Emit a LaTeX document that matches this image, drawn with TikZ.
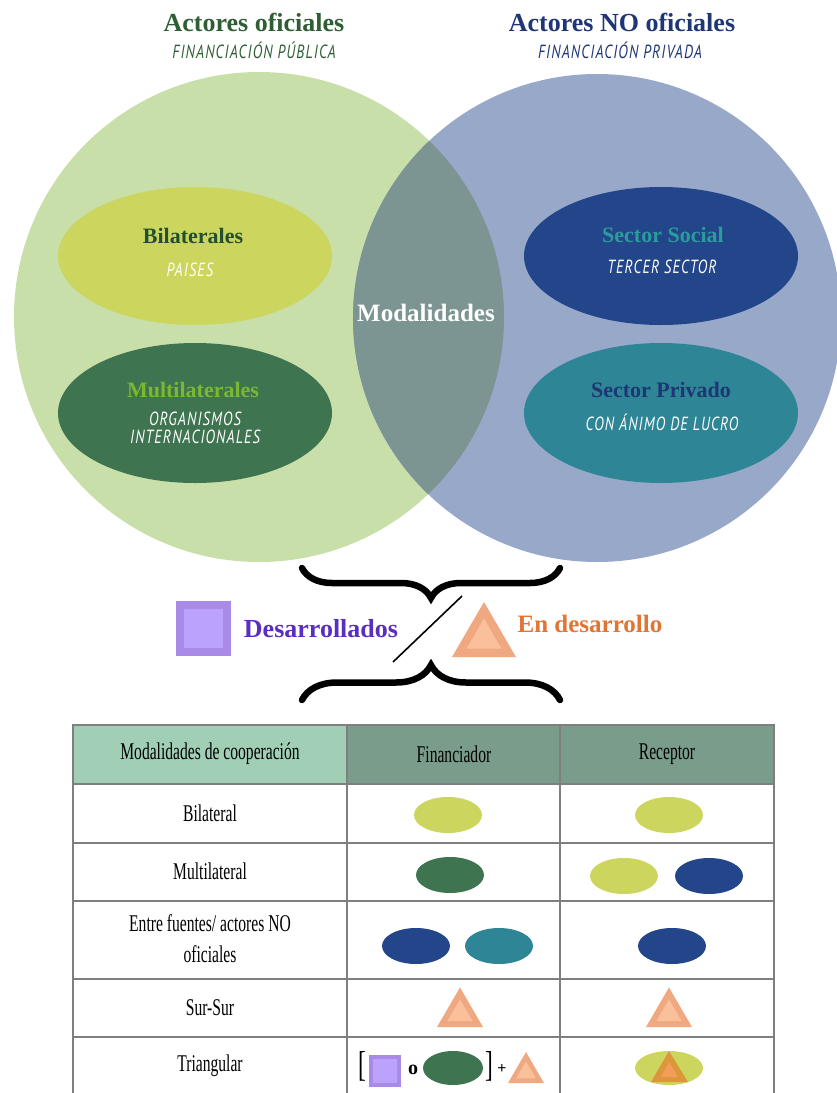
\documentclass[tikz,border=0pt]{standalone}
\usepackage{fontspec}
\setmainfont{Liberation Serif}
\newfontfamily\headfont{Liberation Serif}
\newfontfamily\tabfont[FakeStretch=0.65]{Liberation Serif}
\newfontfamily\tagfont[FakeStretch=0.76,LetterSpace=6]{PT Sans}
\usepackage{tikz}
\usetikzlibrary{decorations.pathreplacing,calc}

\definecolor{offgreen}{HTML}{C9DFA9}
\definecolor{offblue}{HTML}{97A8C9}
\definecolor{lens}{HTML}{7C9592}
\definecolor{limegreen}{HTML}{CCD65E}
\definecolor{forest}{HTML}{3F7450}
\definecolor{navy}{HTML}{23458A}
\definecolor{teal}{HTML}{2E8596}
\definecolor{titlegreen}{HTML}{2F5E35}
\definecolor{titleblue}{HTML}{1F3675}
\definecolor{darkleaf}{HTML}{24502E}
\definecolor{brightleaf}{HTML}{7AB833}
\definecolor{socialteal}{HTML}{2A9C9C}
\definecolor{sqout}{HTML}{A98AE6}
\definecolor{sqin}{HTML}{BBA2FB}
\definecolor{triout}{HTML}{F0A880}
\definecolor{triin}{HTML}{F9C09B}
\definecolor{devpurple}{HTML}{5A2FC0}
\definecolor{devorange}{HTML}{E07535}
\definecolor{headmint}{HTML}{A0CFB5}
\definecolor{headsage}{HTML}{7A9C8A}
\definecolor{gridgray}{HTML}{7F7F7F}

% small sketch helpers
\newcommand\devsquare[3]{% x, y (top left), side
  \fill[sqout] (#1,#2) rectangle ++(#3,#3);
  \fill[sqin] ($(#1,#2)+(0.14*#3,0.14*#3)$) rectangle ++(0.72*#3,0.72*#3);}
\newcommand\devtri[2]{% base centre, half width
  \begin{scope}[shift={#1},scale=#2]
    \fill[triout] (-1,0) -- (1,0) -- (0,-1.72) -- cycle;
    \fill[triin] (-0.55,-0.26) -- (0.55,-0.26) -- (0,-1.2) -- cycle;
  \end{scope}}
\newcommand\pill[3]{\fill[#3] (#1,#2) ellipse [x radius=34, y radius=18];}

\begin{document}
\begin{tikzpicture}[x=1pt,y=-1pt,
  title/.style={inner sep=0pt,font=\headfont\bfseries\fontsize{26}{30}\selectfont},
  tagline/.style={inner sep=0pt,font=\tagfont\itshape\fontsize{19}{19}\selectfont},
  blobname/.style={inner sep=0pt,font=\headfont\bfseries\fontsize{22}{26}\selectfont},
  cell/.style={inner sep=0pt,align=center,font=\tabfont\fontsize{24}{31}\selectfont},
  tabline/.style={gridgray,line width=2pt},
  bracket/.style={line width=6.5pt,line cap=round,decorate,
    decoration={brace,amplitude=#1}}]
\useasboundingbox (0,0) rectangle (837,1093);

% titles
\node[title,text=titlegreen] (offtitle) at (254,22) {Actores oficiales};
\node[tagline,text=titlegreen] (offsub) at (254,50) {FINANCIACIÓN PÚBLICA};
\node[title,text=titleblue] (notitle) at (622,22) {Actores NO oficiales};
\node[tagline,text=titleblue] (nosub) at (620,50) {FINANCIACIÓN PRIVADA};

% the two circles and their overlap
\begin{scope}
\clip (0,0) rectangle (837,1093);
\fill[offgreen] (259,317) circle (245);
\fill[offblue] (597,318) circle (244);
\begin{scope}
\clip (259,317) circle (245);
\fill[lens] (597,318) circle (244);
\end{scope}
\end{scope}

\fill[limegreen] (195,256) ellipse [x radius=137, y radius=69];
\fill[forest] (195,413) ellipse [x radius=137, y radius=70];
\fill[navy] (661,256) ellipse [x radius=137, y radius=69];
\fill[teal] (661,413) ellipse [x radius=137, y radius=70];

\node[blobname,text=darkleaf] (bilat) at (193,236) {Bilaterales};
\node[tagline,text=white] (paises) at (190,270) {PAISES};
\node[blobname,text=brightleaf] (multi) at (193,390) {Multilaterales};
\node[tagline,text=white,align=center,font=\tagfont\itshape\fontsize{19}{18}\selectfont]
  (orgs) at (195,428) {ORGANISMOS\\INTERNACIONALES};
\node[blobname,text=socialteal] (social) at (663,235) {Sector Social};
\node[tagline,text=white] (tercer) at (662,267) {TERCER SECTOR};
\node[blobname,text=titleblue] (privado) at (661,390) {Sector Privado};
\node[tagline,text=white] (lucro) at (662,422) {CON ÁNIMO DE LUCRO};
\node[blobname,text=white,font=\headfont\bfseries\fontsize{25}{28}\selectfont] (modal) at (426,313) {Modalidades};

% braces and the two groups
\coordinate (topl) at (302,568);
\coordinate (topr) at (560,568);
\coordinate (botl) at (302,700);
\coordinate (botr) at (560,700);
\draw[bracket=30] (topr) -- (topl);
\draw[bracket=35] (botl) -- (botr);
\coordinate (slasha) at (393,662);
\coordinate (slashb) at (462,596);
\draw[line width=1.6pt] (slasha) -- (slashb);

\devsquare{176}{601}{55}
\node[title,text=devpurple,font=\headfont\bfseries\fontsize{26}{30}\selectfont] (desarr) at (321,629) {Desarrollados};
\devtri{(484,657)}{32}
\node[title,text=devorange,font=\headfont\bfseries\fontsize{25}{30}\selectfont] (endes) at (590,624) {En desarrollo};

% table
\fill[headmint] (73,725) rectangle (347,784);
\fill[headsage] (347,725) rectangle (774,784);
\foreach \y in {784,843,901,979,1037}
  \draw[tabline] (73,\y) -- (774,\y);
\foreach \x in {347,560}
  \draw[tabline] (\x,725) -- (\x,1100);
\draw[tabline] (73,725) rectangle (774,1100);

\node[cell] (hmod) at (210,754) {Modalidades de cooperación};
\node[cell] (hfin) at (454,754) {Financiador};
\node[cell] (hrec) at (667,754) {Receptor};
\node[cell] (rbil) at (210,813) {Bilateral};
\node[cell] (rmul) at (210,871) {Multilateral};
\node[cell] (rent) at (210,939) {Entre fuentes/ actores NO\\oficiales};
\node[cell] (rsur) at (210,1008) {Sur-Sur};
\node[cell] (rtri) at (210,1066) {Triangular};

\pill{448}{815}{limegreen}
\pill{669}{815}{limegreen}
\pill{450}{875}{forest}
\pill{624}{876}{limegreen}
\pill{709}{876}{navy}
\pill{416}{946}{navy}
\pill{499}{946}{teal}
\pill{672}{946}{navy}
\devtri{(460,1027)}{23}
\devtri{(669,1027)}{23}

% triangular row
\node[cell,font=\tabfont\fontsize{36}{36}\selectfont] (lbrack) at (362,1066) {[};
\devsquare{369}{1055}{32}
\node[cell,font=\headfont\bfseries\fontsize{20}{20}\selectfont] (ofor) at (413,1070) {o};
\fill[forest] (453,1068) ellipse [x radius=30, y radius=17];
\node[cell,font=\tabfont\fontsize{36}{36}\selectfont] (rbrack) at (489,1066) {]};
\node[cell,font=\headfont\bfseries\fontsize{16}{16}\selectfont] (plus) at (502,1069) {+};
\devtri{(526,1083)}{18}
\fill[limegreen] (669,1068) ellipse [x radius=34, y radius=17];
\begin{scope}[opacity=0.75]
\fill[devorange!90!yellow] (651,1082) -- (688,1082) -- (669,1051) -- cycle;
\end{scope}
\fill[triout!70!orange] (661,1077) -- (678,1077) -- (669,1062) -- cycle;
\end{tikzpicture}
\end{document}
